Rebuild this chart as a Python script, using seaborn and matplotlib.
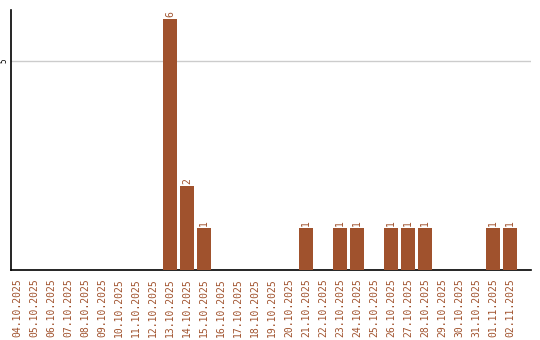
import matplotlib
matplotlib.use("Agg")
import matplotlib.pyplot as plt
import seaborn as sns
import pandas as pd

dates = ["04.10.2025", "05.10.2025", "06.10.2025", "07.10.2025", "08.10.2025",
         "09.10.2025", "10.10.2025", "11.10.2025", "12.10.2025", "13.10.2025",
         "14.10.2025", "15.10.2025", "16.10.2025", "17.10.2025", "18.10.2025",
         "19.10.2025", "20.10.2025", "21.10.2025", "22.10.2025", "23.10.2025",
         "24.10.2025", "25.10.2025", "26.10.2025", "27.10.2025", "28.10.2025",
         "29.10.2025", "30.10.2025", "31.10.2025", "01.11.2025", "02.11.2025"]
counts = [0, 0, 0, 0, 0, 0, 0, 0, 0, 6,
          2, 1, 0, 0, 0, 0, 0, 1, 0, 1,
          1, 0, 1, 1, 1, 0, 0, 0, 1, 1]
y_ticks = [5]

color = "#A0522D"
sns.set_theme(style="white")
plt.rcParams["font.family"] = ["DejaVu Sans Mono", "DejaVu Sans"]

df = pd.DataFrame({"date": dates, "count": counts})

fig = plt.figure(figsize=(5.4, 3.4), dpi=100)
ax = fig.add_axes([11 / 540, 1 - 270 / 340, 520 / 540, 260 / 340])

sns.barplot(data=df, x="date", y="count", color=color, saturation=1,
            width=0.82, linewidth=0, edgecolor="none", ax=ax, zorder=3)

for i, v in enumerate(counts):
    if v > 0:
        ax.text(i, v + 0.06, str(v), rotation=90, ha="center", va="bottom",
                fontsize=7, color=color)

ax.set_xlim(-0.37, 30.23)
ax.set_ylim(0, 6.22)
ax.set_yticks(y_ticks)
ax.set_yticklabels([str(t) for t in y_ticks], rotation=90, va="center",
                   fontsize=5.5, color="black")
ax.yaxis.grid(True, color="#cccccc", linewidth=1, zorder=0)
ax.set_axisbelow(True)
ax.tick_params(axis="y", length=0, pad=2)
ax.tick_params(axis="x", length=0, pad=6)
for lbl in ax.get_xticklabels():
    lbl.set_rotation(90)
    lbl.set_fontsize(7)
    lbl.set_color(color)
ax.set_xlabel("")
ax.set_ylabel("")
for s in ["top", "right"]:
    ax.spines[s].set_visible(False)
for s in ["left", "bottom"]:
    ax.spines[s].set_color("black")
    ax.spines[s].set_linewidth(1.2)

fig.savefig("out.png", dpi=100)
